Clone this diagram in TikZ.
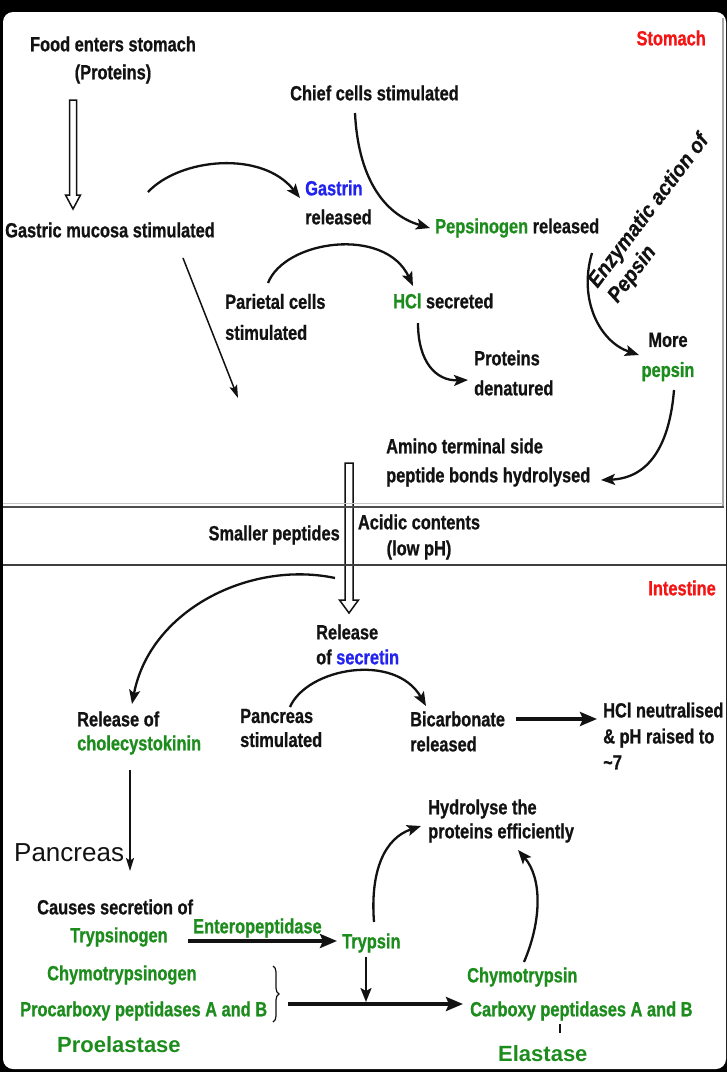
\documentclass[tikz,border=0pt]{standalone}
\usepackage{fontspec}
\setmainfont{Liberation Sans}
\newfontfamily\nbf{Liberation Sans Bold}[FakeStretch=0.8,FakeBold=0.8]
\newfontfamily\wbfi{Liberation Sans Bold Italic}[FakeStretch=0.92,FakeBold=0.5]
\newfontfamily\wbf{Liberation Sans Bold}
\newfontfamily\plainsans{Liberation Sans}
\usetikzlibrary{arrows.meta,decorations.pathreplacing}

\definecolor{ink}{RGB}{18,18,18}
\definecolor{leaf}{RGB}{28,140,28}
\definecolor{hormone}{RGB}{35,35,240}
\definecolor{region}{RGB}{245,20,20}

\tikzset{
  lbl/.style={inner sep=0pt, text=ink, align=left, font=\nbf\fontsize{20.5}{28}\selectfont},
  lbls/.style={lbl, font=\nbf\fontsize{20.5}{25}\selectfont},
  enzyme/.style={lbls, text=leaf},
  bigenzyme/.style={inner sep=0pt, text=leaf, font=\wbf\fontsize{22}{26}\selectfont},
  regionlbl/.style={inner sep=0pt, text=region, font=\nbf\fontsize{20.5}{24}\selectfont},
  flow/.style={draw=ink, line width=2.3pt, -{Stealth[length=14pt,width=11pt,inset=3pt]}},
  thinflow/.style={draw=ink, line width=1.5pt, -{Stealth[length=13pt,width=8pt,inset=2.5pt]}},
  thickflow/.style={draw=ink, line width=3.3pt, -{Stealth[length=17pt,width=14pt,inset=3pt]}},
  hollow/.style={draw=ink, line width=1.5pt, fill=white, line join=miter}
}
\newcommand{\lf}[1]{\textcolor{leaf}{#1}}
\newcommand{\hm}[1]{\textcolor{hormone}{#1}}

\begin{document}
\begin{tikzpicture}[x=1pt,y=-1pt]
\useasboundingbox (0,0) rectangle (727,1072);
% frame
\fill[black] (0,0) rectangle (727,1072);
\fill[white, rounded corners=10pt] (3,12) rectangle (726,1069);

% hollow passage arrows
\draw[hollow] (69.5,100) -- (76.5,100) -- (76.5,195) -- (80.5,195) -- (73,209)
      -- (65.5,195) -- (69.5,195) -- cycle;
\draw[hollow] (345,463) -- (353,463) -- (353,600) -- (358.5,600) -- (349,613)
      -- (339.5,600) -- (345,600) -- cycle;

% section dividers
\draw[gray!70, line width=1.5pt] (723,18) -- (723,506);
\draw[gray!45, line width=1pt] (3,503) -- (723,503);
\draw[black!70, line width=2.2pt] (3,507) -- (724,507);
\draw[black!75, line width=2.2pt] (3,565) -- (726,565);

% ---------- stomach ----------
\node[regionlbl, anchor=east] (stomach) at (706,38) {Stomach};
\node[lbl, align=center] (food) at (113,60) {Food enters stomach\\(Proteins)};
\node[lbl, anchor=west] (chief) at (290,93) {Chief cells stimulated};
\node[lbl, anchor=west] (gastric) at (5,230) {Gastric mucosa stimulated};
\node[lbl, anchor=west, font=\nbf\fontsize{20.5}{29}\selectfont] (gastrin) at (305,202.5) {\hm{Gastrin}\\released};
\node[lbl, anchor=west] (pepsinogen) at (435,228) {\lf{Pepsinogen} released};
\node[lbl, anchor=west, font=\nbf\fontsize{20.5}{31}\selectfont] (parietal) at (225,317) {Parietal cells\\stimulated};
\node[lbl, anchor=west] (hcl) at (393,301) {\lf{HCl} secreted};
\node[lbl, anchor=west, font=\nbf\fontsize{20.5}{30}\selectfont] (denat) at (474,373) {Proteins\\denatured};
\node[lbl, align=center, font=\nbf\fontsize{20.5}{30}\selectfont] (morepepsin) at (668,357) {More\\\lf{pepsin}};
\node[lbl, anchor=west, font=\nbf\fontsize{20.5}{29}\selectfont] (amino) at (386,462.5) {Amino terminal side\\peptide bonds hydrolysed};
\node[lbl, anchor=west, rotate=53, font=\wbfi\fontsize{21.5}{25}\selectfont] (enzact) at (603,293) {Enzymatic action of\\Pepsin};

\coordinate (gm-out) at (148,192);
\coordinate (gastrin-in) at (300,198);
\coordinate (chief-out) at (355,113);
\coordinate (pep-in) at (430,228);
\coordinate (par-out) at (268,283);
\coordinate (hcl-in) at (413,286);
\coordinate (hcl-out) at (418,323);
\coordinate (den-in) at (468,380);
\coordinate (pg-out) at (592,253);
\coordinate (mp-in) at (639,355);
\coordinate (mp-out) at (674,390);
\coordinate (am-in) at (601,480);
\coordinate (gm-low) at (183,258);
\coordinate (gm-end) at (238,398);

\draw[flow] (gm-out) .. controls (180,158) and (262,150) .. (gastrin-in);
\draw[flow] (chief-out) .. controls (358,175) and (382,214) .. (pep-in);
\draw[flow] (par-out) .. controls (285,240) and (385,226) .. (hcl-in);
\draw[flow] (hcl-out) .. controls (418,362) and (436,381) .. (den-in);
\draw[flow] (pg-out) .. controls (578,300) and (600,342) .. (mp-in);
\draw[flow] (mp-out) .. controls (670,440) and (652,478) .. (am-in);
\draw[thinflow] (gm-low) -- (gm-end);

% ---------- passage ----------
\node[lbl, anchor=east] (smaller) at (340,535) {Smaller peptides};
\node[lbl, align=center, font=\nbf\fontsize{20.5}{26}\selectfont] (acidic) at (419,537) {Acidic contents\\(low pH)};

% ---------- intestine ----------
\node[regionlbl, anchor=east] (intestine) at (716,588) {Intestine};
\node[lbls, anchor=west] (secretin) at (316,644.5) {Release\\of \hm{secretin}};
\node[lbls, anchor=west, font=\nbf\fontsize{20.5}{24}\selectfont] (cck) at (77,733) {Release of\\\lf{cholecystokinin}};
\node[lbls, anchor=west, font=\nbf\fontsize{20.5}{24}\selectfont] (pancst) at (240,728) {Pancreas\\stimulated};
\node[lbls, anchor=west] (bicarb) at (410,731.5) {Bicarbonate\\released};
\node[lbls, anchor=west, font=\nbf\fontsize{20.5}{26}\selectfont] (neutral) at (603,736) {HCl neutralised\\\& pH raised to\\\textasciitilde7};
\node[inner sep=0pt, anchor=west, text=ink, font=\plainsans\fontsize{26}{28}\selectfont] (pancreas) at (14,853) {Pancreas};
\node[lbls, anchor=west, font=\nbf\fontsize{20.5}{24}\selectfont] (hydro) at (428,821) {Hydrolyse the\\proteins efficiently};
\node[lbls, anchor=west] (causes) at (37,907) {Causes secretion of};
\node[enzyme, anchor=west] (trypsinogen) at (70,937) {Trypsinogen};
\node[enzyme, anchor=west] (entero) at (193,928) {Enteropeptidase};
\node[enzyme, anchor=west] (trypsin) at (342,943) {Trypsin};
\node[enzyme, anchor=west] (chymogen) at (47,975) {Chymotrypsinogen};
\node[enzyme, anchor=west] (procarb) at (20,1011) {Procarboxy peptidases A and B};
\node[bigenzyme, anchor=west] (proelast) at (57,1045) {Proelastase};
\node[enzyme, anchor=west] (chymo) at (467,977) {Chymotrypsin};
\node[enzyme, anchor=west] (carb) at (470,1011) {Carboxy peptidases A and B};
\node[bigenzyme, anchor=west] (elast) at (498,1054) {Elastase};

\coordinate (sec-out) at (335,578);
\coordinate (cck-in) at (132,704);
\coordinate (pst-out) at (290,707);
\coordinate (bic-in) at (426,706);
\coordinate (cck-out) at (130,770);
\coordinate (causes-in) at (130,871);
\coordinate (tr-out) at (374,922);
\coordinate (hyd-in) at (421,826);
\coordinate (ch-out) at (524,962);
\coordinate (hyd-in2) at (518,850);
\coordinate (tr-down) at (366,957);
\coordinate (join) at (366,1002);
\coordinate (brace-out) at (288,1004);
\coordinate (active-in) at (463,1004);
\coordinate (bic-out) at (516,719);
\coordinate (neu-in) at (597,719);
\coordinate (tg-out) at (188,941);
\coordinate (tr-in) at (337,941);

\draw[flow] (sec-out) .. controls (250,560) and (150,610) .. (cck-in);
\draw[flow] (pst-out) .. controls (307,668) and (395,652) .. (bic-in);
\draw[thickflow] (bic-out) -- (neu-in);
\draw[thinflow] (cck-out) -- (causes-in);
\draw[thickflow] (tg-out) -- (tr-in);
\draw[flow] (tr-down) -- (join);
\draw[thickflow] (brace-out) -- (active-in);
\draw[flow] (tr-out) .. controls (370,870) and (385,838) .. (hyd-in);
\draw[flow] (ch-out) .. controls (542,920) and (542,878) .. (hyd-in2);
\draw[ink, line width=1.3pt] (560,1024) -- (560,1033);
\draw[ink, line width=1.2pt, decorate, decoration={brace, amplitude=6pt}] (273,966) -- (273,1022);
\end{tikzpicture}
\end{document}
